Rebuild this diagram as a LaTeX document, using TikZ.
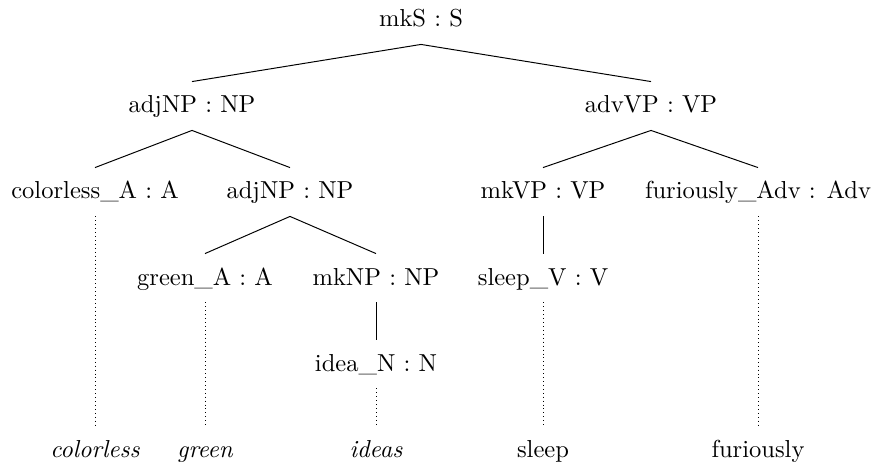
\documentclass[tikz,border=0pt]{standalone}
\begin{document}
\begin{tikzpicture}[x=0.4073pt,y=-0.4073pt,
  cat/.style={anchor=base,inner xsep=0pt,inner ysep=3pt,text height=9.6pt,text depth=3.9pt},
  word/.style={cat,font=\itshape},
  plainword/.style={cat},
  branch/.style={line width=0.4pt},
  lex/.style={line width=0.4pt,dash pattern=on 0.4pt off 1.2pt}]
\useasboundingbox (0,0) rectangle (876,464);

% categories
\node[cat] (s)     at (421,27)  {mkS : S};
\node[cat] (np1)   at (192,113) {adjNP : NP};
\node[cat] (vp1)   at (651,113) {advVP : VP};
\node[cat] (colA)  at (95,199)  {colorless\_A : A};
\node[cat] (np2)   at (290,199) {adjNP : NP};
\node[cat] (vp2)   at (543,199) {mkVP : VP};
\node[cat] (furA)  at (758,199) {furiously\_Adv : Adv};
\node[cat] (grnA)  at (205,285) {green\_A : A};
\node[cat] (np3)   at (376,285) {mkNP : NP};
\node[cat] (slpV)  at (543,285) {sleep\_V : V};
\node[cat] (ideaN) at (376,371) {idea\_N : N};

% surface words
\node[word]      (w1) at (95,457)  {colorless};
\node[word]      (w2) at (205,457) {green};
\node[word]      (w3) at (376,457) {ideas};
\node[plainword] (w4) at (543,457) {sleep};
\node[plainword] (w5) at (758,457) {furiously};

% tree branches
\draw[branch] (np1.north) -- (s.south) -- (vp1.north);
\draw[branch] (colA.north) -- (np1.south) -- (np2.north);
\draw[branch] (grnA.north) -- (np2.south) -- (np3.north);
\draw[branch] (vp2.north) -- (vp1.south) -- (furA.north);
\draw[branch] (np3.south) -- (ideaN.north);
\draw[branch] (vp2.south) -- (slpV.north);

% links to the words
\draw[lex] (colA.south)  -- (w1.north);
\draw[lex] (grnA.south)  -- (w2.north);
\draw[lex] (ideaN.south) -- (w3.north);
\draw[lex] (slpV.south)  -- (w4.north);
\draw[lex] (furA.south)  -- (w5.north);
\end{tikzpicture}
\end{document}
